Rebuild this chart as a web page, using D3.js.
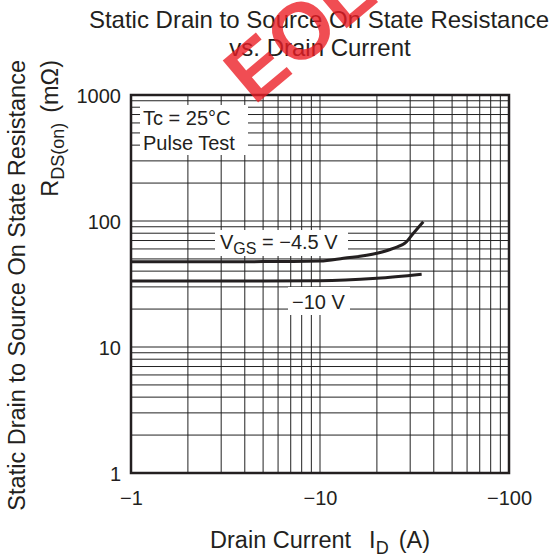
<!DOCTYPE html>
<html>
<head>
<meta charset="utf-8">
<script src="https://cdn.jsdelivr.net/npm/d3@7"></script>
<style>
  body { margin: 0; background: #fff; }
  text { font-family: "Liberation Sans", Arial, sans-serif; fill: #231f20; }
</style>
</head>
<body>
<script>
// data (drain current magnitude in A, resistance in mOhm)
var xTicks = [1, 10, 100];
var xTickLabels = ["\u22121", "\u221210", "\u2212100"];
var yTicks = [1, 10, 100, 1000];
var yTickLabels = ["1", "10", "100", "1000"];

var id45 = [1, 5, 10, 13.3, 20, 24.4, 28.7, 31.2, 35.2];
var r45  = [47.5, 47.6, 48.1, 50.6, 55.4, 60.7, 68.5, 79.9, 98.7];
var id10 = [1, 5, 10, 20, 34.5];
var r10  = [33.4, 33.4, 33.5, 35.1, 37.8];

var W = 552, H = 556;
var plotL = 131, plotR = 509, plotT = 95, plotB = 473;
var ink = "#231f20";

var svg = d3.select("body").append("svg")
    .attr("width", W)
    .attr("height", H);

var x = d3.scaleLog().domain([1, 100]).range([plotL, plotR]);
var y = d3.scaleLog().domain([1, 1000]).range([plotB, plotT]);

// grid lines (2..9 of each decade)
var xGrid = [], yGrid = [];
[1, 10].forEach(function(d) { for (var k = 2; k <= 9; k++) xGrid.push(k * d); });
xGrid.push(10);
[1, 10, 100].forEach(function(d) { for (var k = 2; k <= 9; k++) yGrid.push(k * d); });
yGrid.push(10, 100);

var grid = svg.append("g");
grid.selectAll("line.vx").data(xGrid).enter().append("line")
    .attr("x1", function(d) { return x(d); })
    .attr("x2", function(d) { return x(d); })
    .attr("y1", plotT).attr("y2", plotB)
    .attr("stroke", "#222").attr("stroke-width", 1);
grid.selectAll("line.hy").data(yGrid).enter().append("line")
    .attr("y1", function(d) { return y(d); })
    .attr("y2", function(d) { return y(d); })
    .attr("x1", plotL).attr("x2", plotR)
    .attr("stroke", "#222").attr("stroke-width", 1);

// white boxes behind the annotations
function box(x0, y0, w, h) {
    svg.append("rect").attr("x", x0).attr("y", y0)
        .attr("width", w).attr("height", h).attr("fill", "#fff");
}
box(140, 105, 108, 50);
box(215, 230, 133, 26);
box(288, 287, 62, 28);

// curves
var line = d3.line()
    .x(function(d) { return x(d[0]); })
    .y(function(d) { return y(d[1]); })
    .curve(d3.curveMonotoneX);

svg.append("path")
    .datum(d3.zip(id45, r45))
    .attr("d", line)
    .attr("fill", "none").attr("stroke", ink).attr("stroke-width", 3);
svg.append("path")
    .datum(d3.zip(id10, r10))
    .attr("d", line)
    .attr("fill", "none").attr("stroke", ink).attr("stroke-width", 3);

// frame
svg.append("rect")
    .attr("x", plotL).attr("y", plotT)
    .attr("width", plotR - plotL).attr("height", plotB - plotT)
    .attr("fill", "none").attr("stroke", ink).attr("stroke-width", 2.5);

// axis labels
var xAxis = d3.axisBottom(x).tickValues(xTicks).tickSize(0)
    .tickFormat(function(d, i) { return xTickLabels[i]; });
var gx = svg.append("g").attr("transform", "translate(0," + plotB + ")").call(xAxis);
gx.select(".domain").remove();
gx.selectAll("text").attr("font-size", 20).attr("dy", 0).attr("y", 32)
    .style("font-family", "Liberation Sans, Arial, sans-serif").attr("fill", ink);

var yAxis = d3.axisLeft(y).tickValues(yTicks).tickSize(0)
    .tickFormat(function(d, i) { return yTickLabels[i]; });
var gy = svg.append("g").attr("transform", "translate(" + plotL + ",0)").call(yAxis);
gy.select(".domain").remove();
gy.selectAll("text").attr("font-size", 20).attr("x", -10).attr("dy", "0.35em")
    .style("font-family", "Liberation Sans, Arial, sans-serif").attr("fill", ink);

// annotations
svg.append("text").attr("x", 143).attr("y", 125).attr("font-size", 20).text("Tc = 25\u00b0C");
svg.append("text").attr("x", 143).attr("y", 150).attr("font-size", 20).text("Pulse Test");

var vgs = svg.append("text").attr("x", 220).attr("y", 249).attr("font-size", 20);
vgs.append("tspan").text("V");
vgs.append("tspan").attr("dy", 5).attr("font-size", 16).text("GS");
vgs.append("tspan").attr("dy", -5).text(" = \u22124.5 V");

svg.append("text").attr("x", 292).attr("y", 309).attr("font-size", 20).text("\u221210 V");

// titles
svg.append("text").attr("x", 319).attr("y", 28).attr("text-anchor", "middle")
    .attr("font-size", 24).text("Static Drain to Source On State Resistance");
svg.append("text").attr("x", 320).attr("y", 56).attr("text-anchor", "middle")
    .attr("font-size", 24).text("vs. Drain Current");

var xt = svg.append("text").attr("x", 320).attr("y", 548).attr("text-anchor", "middle")
    .attr("font-size", 23.5);
xt.append("tspan").text("Drain Current");
xt.append("tspan").attr("dx", 18).text("I");
xt.append("tspan").attr("dy", 6).attr("font-size", 18).text("D");
xt.append("tspan").attr("dy", -6).attr("dx", 10).text("(A)");

svg.append("text").attr("transform", "translate(25,60) rotate(-90)")
    .attr("text-anchor", "end").attr("font-size", 23.5)
    .text("Static Drain to Source On State Resistance");
var yt = svg.append("text").attr("transform", "translate(58,60) rotate(-90)")
    .attr("text-anchor", "end").attr("font-size", 23.5);
yt.append("tspan").text("R");
yt.append("tspan").attr("dy", 6).attr("font-size", 18).text("DS(on)");
yt.append("tspan").attr("dy", -6).attr("dx", 10).text("(m\u03a9)");

// watermark
svg.append("text").attr("transform", "translate(254,106) rotate(-40)")
    .attr("font-size", 80).attr("font-weight", "bold")
    .style("fill", "#ed1c24").attr("opacity", 0.78)
    .text("EOL");
</script>
</body>
</html>
